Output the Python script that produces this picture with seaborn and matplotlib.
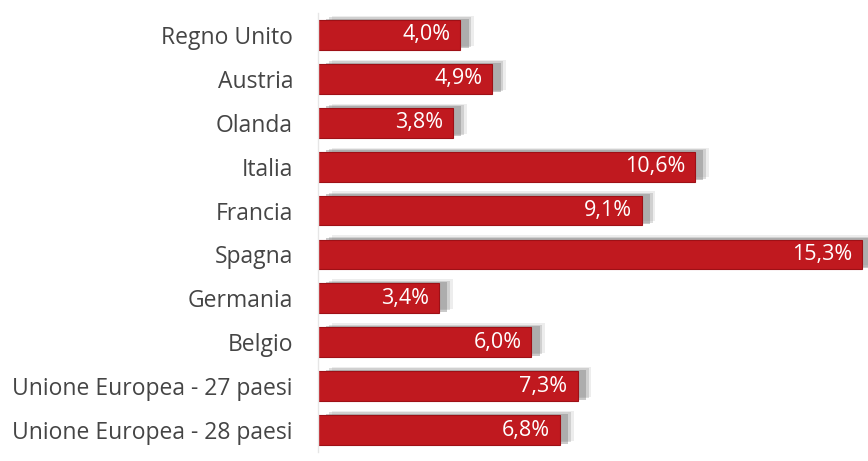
import matplotlib
matplotlib.use("Agg")
import matplotlib.pyplot as plt
import matplotlib.patheffects as pe
import seaborn as sns
import pandas as pd

paesi = ["Regno Unito", "Austria", "Olanda", "Italia", "Francia", "Spagna",
         "Germania", "Belgio", "Unione Europea - 27 paesi", "Unione Europea - 28 paesi"]
valori = [4.0, 4.9, 3.8, 10.6, 9.1, 15.3, 3.4, 6.0, 7.3, 6.8]

df = pd.DataFrame({"paese": paesi, "valore": valori})

sns.set_style("white")
plt.rcParams["font.family"] = ["Open Sans", "DejaVu Sans"]

fig = plt.figure(figsize=(8.68, 4.61), dpi=100)
ax = fig.add_axes([318 / 868, 9 / 461, 550 / 868, 439 / 461])

sns.barplot(data=df, x="valore", y="paese", orient="h", color="#C0191F",
            width=0.68, saturation=1, edgecolor="#9E1016", linewidth=0.8, ax=ax)

# soft grey drop shadow behind each bar
shadow = [
    pe.SimplePatchShadow(offset=(10, 3), shadow_rgbFace="#a8a8a8", alpha=0.2),
    pe.SimplePatchShadow(offset=(8, 2), shadow_rgbFace="#909090", alpha=0.3),
    pe.SimplePatchShadow(offset=(6, 1), shadow_rgbFace="#7a7a7a", alpha=0.4),
    pe.Normal(),
]
for bar in ax.patches:
    bar.set_path_effects(shadow)

for bar, v in zip(ax.patches, valori):
    y = bar.get_y() + bar.get_height() / 2
    ax.text(bar.get_width() - 0.28, y, f"{v:.1f}%".replace(".", ","),
            ha="right", va="center", color="white", fontsize=15.5)

ax.set_xlim(0, 15.3 * 550 / 544)
ax.set_ylim(9.5, -0.5)
ax.set_xlabel("")
ax.set_ylabel("")
ax.set_xticks([])
ax.tick_params(axis="y", length=0, pad=18, labelsize=16.5, labelcolor="#454545")
for s in ["top", "right", "bottom"]:
    ax.spines[s].set_visible(False)
ax.spines["left"].set_color("#e6e6e6")
ax.spines["left"].set_linewidth(1)

fig.savefig("out.png", dpi=100)
